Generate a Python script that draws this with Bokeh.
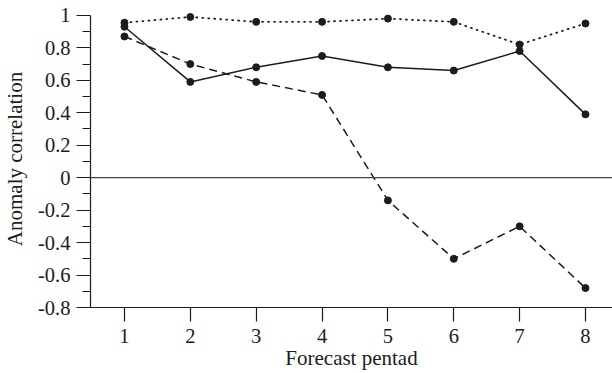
from bokeh.plotting import figure
from bokeh.models import (ColumnDataSource, FixedTicker, Range1d, Span,
                          CustomJSTickFormatter)
from bokeh.embed import file_html
from bokeh.resources import INLINE

# Forecast pentads and anomaly correlations of the three forecasts
pentad = [1, 2, 3, 4, 5, 6, 7, 8]
corr_dotted = [0.955, 0.99, 0.96, 0.96, 0.98, 0.96, 0.82, 0.95]
corr_solid = [0.93, 0.59, 0.68, 0.75, 0.68, 0.66, 0.78, 0.39]
corr_dashed = [0.87, 0.70, 0.59, 0.51, -0.14, -0.50, -0.30, -0.68]

y_ticks = [-0.8, -0.6, -0.4, -0.2, 0, 0.2, 0.4, 0.6, 0.8, 1]
y_minor = [-0.7, -0.5, -0.3, -0.1, 0.1, 0.3, 0.5, 0.7, 0.9]
x_ticks = [1, 2, 3, 4, 5, 6, 7, 8]

FONT = "Liberation Serif"
INK = "#1c1c1c"

p = figure(width=612, height=373, output_backend="svg", toolbar_location=None,
           x_range=Range1d(0.484, 8.41), y_range=Range1d(-0.8, 1.03),
           min_border_left=90, min_border_right=0, min_border_top=10,
           min_border_bottom=66)
p.outline_line_color = None
p.xgrid.visible = False
p.ygrid.visible = False
p.background_fill_color = "white"
p.border_fill_color = "white"

src = ColumnDataSource(dict(x=pentad, a=corr_dotted, b=corr_solid, c=corr_dashed))

p.add_layout(Span(location=0, dimension="width", line_color="#444444", line_width=1.2))

p.line("x", "a", source=src, line_color=INK, line_width=1.8, line_dash="1 5",
       line_cap="round")
p.line("x", "b", source=src, line_color=INK, line_width=1.5)
p.line("x", "c", source=src, line_color=INK, line_width=1.5, line_dash="8 5")
for col in ("a", "b", "c"):
    p.scatter("x", col, source=src, size=7, color=INK)

# y axis
ya = p.yaxis[0]
ya.ticker = FixedTicker(ticks=y_ticks, minor_ticks=y_minor)
ya.bounds = (-0.8, 1)
ya.formatter = CustomJSTickFormatter(
    code="return Math.abs(tick) < 1e-9 ? '0' : String(+tick.toFixed(1));")
ya.axis_label = "Anomaly correlation"
ya.major_tick_out = 14
ya.major_tick_in = 0
ya.minor_tick_out = 8
ya.minor_tick_in = 0
ya.major_label_standoff = 6
ya.axis_label_standoff = 8

# x axis
xa = p.xaxis[0]
xa.ticker = FixedTicker(ticks=x_ticks, minor_ticks=[])
xa.axis_label = "Forecast pentad"
xa.major_tick_out = 14
xa.major_tick_in = 0
xa.minor_tick_out = 0
xa.minor_tick_in = 0
xa.major_label_standoff = 7
xa.axis_label_standoff = 0

for ax in (xa, ya):
    ax.axis_line_color = INK
    ax.axis_line_width = 1.2
    ax.major_tick_line_color = INK
    ax.major_tick_line_width = 1.2
    ax.minor_tick_line_color = INK
    ax.minor_tick_line_width = 1.2
    ax.major_label_text_font = FONT
    ax.major_label_text_font_size = "20.5px"
    ax.major_label_text_color = INK
    ax.axis_label_text_font = FONT
    ax.axis_label_text_font_size = "21px"
    ax.axis_label_text_font_style = "normal"
    ax.axis_label_text_color = INK

open("out.html", "w").write(file_html(p, INLINE))
